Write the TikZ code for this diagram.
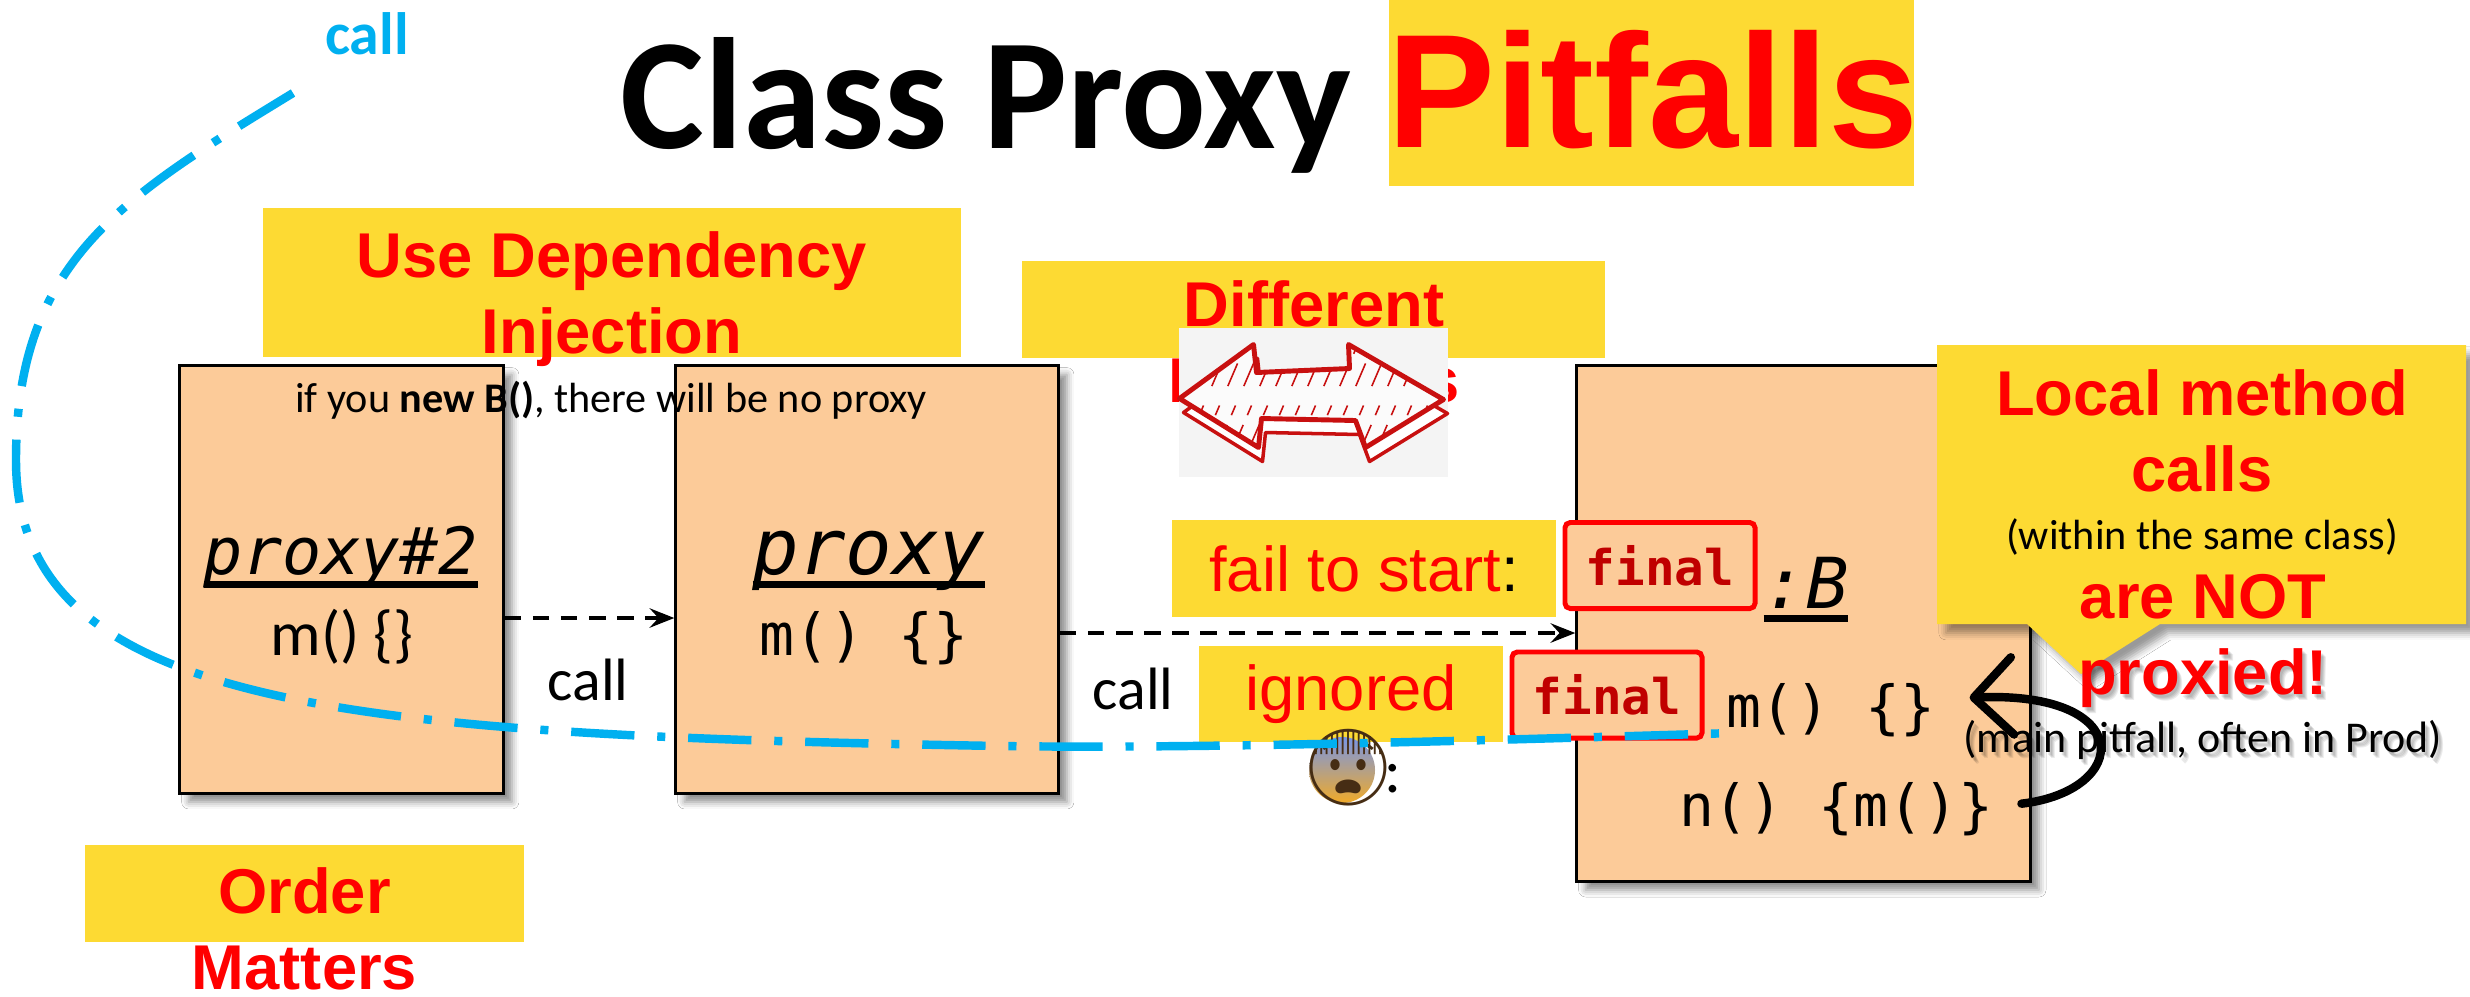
\documentclass[tikz,border=0pt]{standalone}
\usepackage{fontspec}
\setmainfont{Carlito}
\newfontfamily\arialfont{Liberation Sans}
\newfontfamily\codefont{DejaVu Sans Mono}
\newfontfamily\emojifont{Noto Emoji}
\usetikzlibrary{arrows.meta,calc,shadows.blur}

\definecolor{hlyellow}{RGB}{253,218,51}
\definecolor{peach}{RGB}{252,203,153}
\definecolor{callblue}{RGB}{0,176,240}
\definecolor{darkred}{RGB}{192,0,0}
\definecolor{sketchred}{RGB}{200,16,16}
\definecolor{paper}{RGB}{244,244,244}
\definecolor{fearblue}{RGB}{120,150,230}
\definecolor{faceyellow}{RGB}{250,215,70}
\definecolor{faceorange}{RGB}{240,170,40}
\definecolor{facebrown}{RGB}{70,45,20}

\tikzset{
  hl/.style={fill=hlyellow, inner sep=0pt, outer sep=0pt},
  txt/.style={inner sep=0pt, outer sep=0pt},
  cls/.style={draw=black, line width=0.9pt, fill=peach, inner sep=0pt,
    blur shadow={shadow xshift=2.5pt, shadow yshift=-2.5pt, shadow blur radius=2pt, shadow opacity=45}},
  warn/.style={txt, text=red, align=center, font=\arialfont\bfseries\fontsize{18pt}{21.6pt}\selectfont},
  note/.style={hl, text=red, font=\arialfont\fontsize{18pt}{21.6pt}\selectfont},
  code/.style={txt, font=\codefont\fontsize{16.5pt}{20pt}\selectfont},
  objname/.style={txt, font=\codefont\itshape\fontsize{#1}{#1}\selectfont},
  finalbox/.style={draw=red, line width=1.4pt, fill=peach, rounded corners=1.5pt,
    minimum width=1.9cm, minimum height=0.86cm, inner sep=0pt, text=darkred,
    font=\codefont\bfseries\fontsize{14pt}{16pt}\selectfont},
  calllink/.style={line width=1.1pt, dash pattern=on 4.7pt off 3.3pt,
    -{Stealth[length=7pt, width=5.5pt, inset=2.5pt]}},
  selfcall/.style={callblue, line width=2.4pt, dash pattern=on 18pt off 6.5pt on 2.3pt off 6.5pt},
  localcall/.style={line width=2.4pt, line cap=round, -{Straight Barb[length=11pt, width=22pt, round]}},
  swapoutline/.style={insert path={(-134,-4) -- (-60,-58) -- (-57,-30) -- (36,-34) -- (35,-58)
    -- (130,-3) -- (52,45) -- (42,18) -- (-52,16) -- (-55,45) -- cycle}},
}

\begin{document}
\begin{tikzpicture}[x=0.01cm, y=-0.01cm]

% page
\fill[white] (0,0) rectangle (2470,996);
\useasboundingbox (0,0) rectangle (2470,996);

% title
\node[hl, minimum width=5.25cm, minimum height=1.86cm] (pitbox) at (1651.5,93) {};
\node[txt, anchor=base, font=\bfseries\fontsize{45pt}{50pt}\selectfont] (title) at (986,148) {Class Proxy};
\node[txt, anchor=base, text=red, font=\arialfont\bfseries\fontsize{46pt}{50pt}\selectfont] (pitfalls) at (1653,147) {Pitfalls};

% yellow headings
\node[hl, minimum width=6.98cm, minimum height=1.49cm] (dibox) at (612,282.5) {};
\node[warn, anchor=north] (di) at (612,232) {Use Dependency\\Injection};
\node[hl, minimum width=5.83cm, minimum height=0.97cm] (namesbox) at (1313.5,309.5) {};
\node[warn, anchor=north] (names) at (1314,281) {Different\\Instances};
\node[hl, minimum width=4.39cm, minimum height=0.97cm] (orderbox) at (304.5,893.5) {};
\node[warn, anchor=north] (order) at (304.5,868) {Order\\Matters};

% objects
\node[cls, minimum width=3.23cm, minimum height=4.27cm] (proxy2) at (341.5,579.5) {};
\node[cls, minimum width=3.82cm, minimum height=4.27cm] (proxy1) at (867,579.5) {};
\node[cls, minimum width=4.53cm, minimum height=5.15cm] (target) at (1803.5,623.5) {};

\node[objname=18.5pt, anchor=base] (p2name) at (341,574) {proxy\#2};
\node[objname=22pt, anchor=base] (p1name) at (869,574) {proxy};
\node[objname=20pt, anchor=base] (bname) at (1806,608) {:B};
\foreach \n in {p2name,p1name,bname}
  \draw[line width=2pt] ($(\n.base west)+(0,10)$) -- ($(\n.base east)+(0,10)$);

\node[txt, anchor=base, font=\fontsize{18pt}{20pt}\selectfont] (p2m) at (342,655) {m() \{\}};
\node[code, anchor=base] (p1m) at (864,655) {m() \{\}};
\node[code, anchor=base west] (mline) at (1726,727) {m() \{\}};
\node[code, anchor=base west] (nline) at (1679,826) {n() \{m()\}};

\node[txt, anchor=base, font=\fontsize{12pt}{14pt}\selectfont] (newnote) at (611,412)
  {if you \textbf{new B()}, there will be no proxy};

% calls through the proxies
\coordinate (lvl1) at (0,618);
\coordinate (lvl2) at (0,633);
\draw[calllink] (proxy2.east |- lvl1) -- (proxy1.west |- lvl1);
\draw[calllink] (proxy1.east |- lvl2) -- (target.west |- lvl2);
\node[txt, anchor=base, font=\fontsize{17pt}{20pt}\selectfont] (call1) at (588,700) {call};
\node[txt, anchor=base, font=\fontsize{17pt}{20pt}\selectfont] (call2) at (1133,709) {call};

% final modifiers
\node[note, minimum width=3.84cm, minimum height=0.97cm] (fail) at (1364,568.5) {fail to start\textcolor{black}{:}};
\node[note, minimum width=3.04cm, minimum height=0.96cm] (ignored) at (1351,694) {ignored};
\node[finalbox] (final1) at (1660,565.5) {final};
\node[finalbox] (final2) at (1607,695) {final};

% sketched double arrow
\node[fill=paper, inner sep=0pt, minimum width=2.69cm, minimum height=1.49cm] (swap) at (1313.5,402.5) {};
\begin{scope}[shift={(swap.center)}, line join=round]
  \path[draw=sketchred, line width=1pt, fill=white, shift={(4,14)}, swapoutline];
  \path[draw=sketchred, line width=1.4pt, fill=paper!40!white, swapoutline];
  \begin{scope}
    \path[clip, swapoutline];
    \foreach \s in {-160,-144,...,150}
      \draw[sketchred, line width=0.45pt, dash pattern=on 7pt off 3pt on 3pt off 6pt] (\s,45) -- (\s+45,-60);
  \end{scope}
\end{scope}

% scared face
\shade[top color=fearblue, middle color=faceyellow, bottom color=faceorange] (1342,770) circle (33);
\node[txt, text=facebrown, font=\emojifont\fontsize{21.5pt}{21.5pt}\selectfont] (fear) at (1348,768) {😨};
\node[txt, anchor=base, font=\fontsize{18pt}{20pt}\selectfont] (fearcolon) at (1393,792) {:};

% call coming from outside
\coordinate (callstart) at (293,93);
\coordinate (callend) at (1733,733);
\draw[selfcall] (callstart) .. controls (123,197) and (16,260) .. (16,460)
  .. controls (16,710) and (350,735) .. (1000,746)
  .. controls (1200,749) and (1500,740) .. (callend);
\node[txt, anchor=base, text=callblue, font=\bfseries\fontsize{17pt}{20pt}\selectfont] (calltop) at (367,54) {call};

% local call callout
\path[fill=hlyellow, blur shadow={shadow xshift=2.5pt, shadow yshift=-2.5pt, shadow blur radius=2pt, shadow opacity=40}]
  (1937,345) -- (2466,345) -- (2466,624) -- (2160,624) -- (2081,674) -- (2027,624) -- (1937,624) -- cycle;
\node[warn, anchor=north] (localhead) at (2202,370) {Local method\\calls};
\node[txt, anchor=base, font=\fontsize{12pt}{14pt}\selectfont] (within) at (2202,549) {(within the same class)};
\node[warn, anchor=base] (arenot) at (2203,618) {are NOT};
\foreach \d in {1,...,4} {
  \node[warn, anchor=base, text=black, opacity=0.08] (proxshadow\d) at ($(2203,694)+(1+\d,2+\d)$) {proxied!};
  \node[txt, anchor=base, font=\fontsize{12.5pt}{14pt}\selectfont, opacity=0.08] (noteshadow\d) at ($(2203,752)+(1+\d,2+\d)$) {(main pitfall, often in Prod)};
}
\node[warn, anchor=base] (proxied) at (2203,694) {proxied!};
\node[txt, anchor=base, font=\fontsize{12.5pt}{14pt}\selectfont] (pitnote) at (2203,752) {(main pitfall, often in Prod)};

\draw[localcall] ($(nline.east)+(28,-5)$) .. controls +(110,-13) and +(167,-7) .. ($(mline.east)+(34,-12)$);

\end{tikzpicture}
\end{document}
